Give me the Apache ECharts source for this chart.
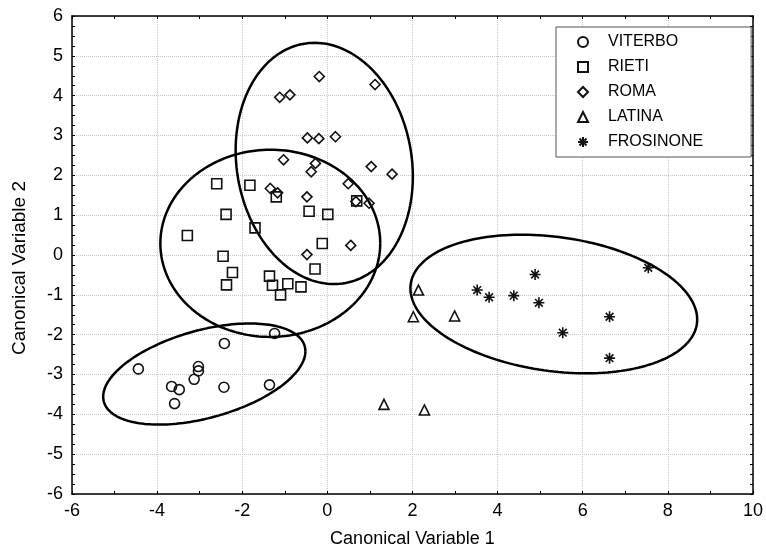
<!DOCTYPE html>
<html>
<head>
<meta charset="utf-8">
<script src="https://cdn.jsdelivr.net/npm/echarts@6/dist/echarts.min.js"></script>
<style>
  html, body { margin: 0; padding: 0; background: #fff; }
  #chart { width: 766px; height: 556px; }
</style>
</head>
<body>
<div id="chart"></div>
<script>
// canonical scores
const groupNames = ['VITERBO', 'RIETI', 'ROMA', 'LATINA', 'FROSINONE'];

const viterboX = [-4.44, -3.66, -3.48, -3.59, -3.03, -3.03, -3.13, -2.42, -2.43, -1.36, -1.24];
const viterboY = [-2.86, -3.30, -3.38, -3.73, -2.80, -2.91, -3.12, -2.22, -3.32, -3.26, -1.97];

const rietiX = [-2.60, -1.82, -1.20, -2.38, -0.43, 0.01, -1.70, -3.29, -0.12, -2.45,
                -2.23, -2.37, -0.29, -1.36, -1.29, -0.93, -1.10, -0.62, 0.69];
const rietiY = [1.79, 1.75, 1.46, 1.02, 1.10, 1.02, 0.68, 0.49, 0.29, -0.03,
                -0.44, -0.75, -0.35, -0.53, -0.76, -0.72, -1.00, -0.80, 1.36];

const romaX = [-0.19, 1.12, -1.12, -0.88, -0.47, -0.20, 0.19, -1.03, -0.28, -0.38,
               1.03, 1.52, -1.34, -1.17, -0.48, 0.49, 0.67, 0.98, 0.55, -0.48];
const romaY = [4.48, 4.28, 3.96, 4.02, 2.94, 2.92, 2.97, 2.39, 2.30, 2.09,
               2.22, 2.03, 1.67, 1.56, 1.46, 1.79, 1.34, 1.30, 0.24, 0.01];

const latinaX = [2.14, 2.02, 2.99, 2.28, 1.33];
const latinaY = [-0.88, -1.55, -1.53, -3.89, -3.75];

const frosinoneX = [4.88, 7.54, 3.52, 3.80, 4.38, 4.97, 6.63, 5.53, 6.63];
const frosinoneY = [-0.49, -0.32, -0.88, -1.06, -1.02, -1.20, -1.55, -1.95, -2.59];

// groups that get a 95% ellipse (chi-square, 2 df)
const ellipseGroups = ['VITERBO', 'RIETI', 'ROMA', 'FROSINONE'];
const chi2_95 = 5.991;

const groupX = [viterboX, rietiX, romaX, latinaX, frosinoneX];
const groupY = [viterboY, rietiY, romaY, latinaY, frosinoneY];

const asterisk = 'path://M5,0L5,10M0,5L10,5M1.5,1.5L8.5,8.5M1.5,8.5L8.5,1.5';
const symbols = ['circle', 'rect', 'diamond', 'triangle', asterisk];

const zip = (xs, ys) => xs.map((x, i) => [x, ys[i]]);

function ellipsePoints(xs, ys) {
  const n = xs.length;
  const mx = xs.reduce((a, b) => a + b, 0) / n;
  const my = ys.reduce((a, b) => a + b, 0) / n;
  let sxx = 0, syy = 0, sxy = 0;
  for (let i = 0; i < n; i++) {
    sxx += (xs[i] - mx) * (xs[i] - mx);
    syy += (ys[i] - my) * (ys[i] - my);
    sxy += (xs[i] - mx) * (ys[i] - my);
  }
  sxx = sxx / (n - 1) * chi2_95;
  syy = syy / (n - 1) * chi2_95;
  sxy = sxy / (n - 1) * chi2_95;
  const l11 = Math.sqrt(sxx);
  const l21 = sxy / l11;
  const l22 = Math.sqrt(syy - l21 * l21);
  const pts = [];
  for (let k = 0; k <= 180; k++) {
    const t = k / 180 * Math.PI * 2;
    pts.push([mx + l11 * Math.cos(t), my + l21 * Math.cos(t) + l22 * Math.sin(t)]);
  }
  return pts;
}

const font = 'Liberation Sans, Arial, sans-serif';
const tickStyle = { color: '#000', width: 1 };

const scatterSeries = groupNames.map((name, i) => ({
  name: name,
  type: 'scatter',
  symbol: symbols[i],
  symbolSize: i === 4 ? 11 : 10,
  data: zip(groupX[i], groupY[i]),
  itemStyle: { color: 'rgba(0,0,0,0)', borderColor: '#111', borderWidth: 1.6, opacity: 1 },
  emphasis: { disabled: true },
  z: 3
}));

const ellipseSeries = ellipseGroups.map(name => {
  const i = groupNames.indexOf(name);
  return {
    name: name + ' ellipse',
    type: 'line',
    data: ellipsePoints(groupX[i], groupY[i]),
    showSymbol: false,
    symbol: 'none',
    lineStyle: { color: '#000', width: 2.5 },
    silent: true,
    z: 2
  };
});

const axisCommon = {
  type: 'value',
  axisLine: { show: true, onZero: false, lineStyle: { color: '#000', width: 1.5 } },
  axisTick: { show: true, inside: true, length: 3, lineStyle: tickStyle },
  minorTick: { show: true, length: 3, lineStyle: tickStyle }
};

const chart = echarts.init(document.getElementById('chart'));
chart.setOption({
  animation: false,
  backgroundColor: '#fff',
  grid: { left: 72, right: 5, top: 16, bottom: 62 },
  legend: {
    data: groupNames,
    orient: 'vertical',
    left: 556,
    top: 27,
    itemWidth: 10,
    itemHeight: 10,
    itemGap: 9,
    padding: [7, 48, 7, 21],
    borderColor: '#555',
    borderWidth: 1,
    backgroundColor: '#fff',
    selectedMode: false,
    textStyle: { fontSize: 16, color: '#000', fontFamily: font, padding: [0, 0, 0, 15] }
  },
  xAxis: [
    Object.assign({}, axisCommon, {
      min: -6, max: 10, interval: 2,
      minorTick: Object.assign({}, axisCommon.minorTick, { splitNumber: 2 }),
      splitLine: { show: true, lineStyle: { type: 'dotted', color: '#c8c8c8' } },
      axisLabel: { fontSize: 18, color: '#000', margin: 8, fontFamily: font },
      name: 'Canonical Variable 1',
      nameLocation: 'middle',
      nameGap: 36,
      nameTextStyle: { fontSize: 18, color: '#000', fontFamily: font }
    }),
    Object.assign({}, axisCommon, {
      position: 'top',
      min: -6, max: 10, interval: 2,
      minorTick: Object.assign({}, axisCommon.minorTick, { splitNumber: 2 }),
      axisLabel: { show: false },
      splitLine: { show: false }
    })
  ],
  yAxis: [
    Object.assign({}, axisCommon, {
      min: -6, max: 6, interval: 1,
      minorTick: Object.assign({}, axisCommon.minorTick, { splitNumber: 4 }),
      splitLine: { show: true, lineStyle: { type: 'dotted', color: '#c8c8c8' } },
      axisLabel: { fontSize: 18, color: '#000', margin: 9, fontFamily: font },
      name: 'Canonical Variable 2',
      nameLocation: 'middle',
      nameGap: 43,
      nameTextStyle: { fontSize: 19, color: '#000', fontFamily: font, padding: [0, 26, 0, 0] }
    }),
    Object.assign({}, axisCommon, {
      position: 'right',
      min: -6, max: 6, interval: 1,
      minorTick: Object.assign({}, axisCommon.minorTick, { splitNumber: 4 }),
      axisLabel: { show: false },
      splitLine: { show: false }
    })
  ],
  series: ellipseSeries.concat(scatterSeries)
});
</script>
</body>
</html>
